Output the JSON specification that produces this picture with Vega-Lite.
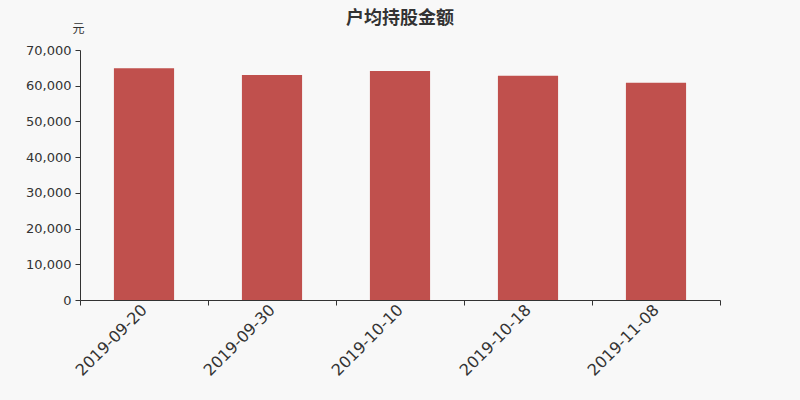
{
  "$schema": "https://vega.github.io/schema/vega-lite/v6.json",
  "width": 640,
  "height": 250,
  "autosize": "none",
  "padding": {"left": 80, "top": 50, "right": 80, "bottom": 100},
  "background": "#f8f8f8",
  "title": {
    "text": "户均持股金额",
    "font": "Noto Sans CJK SC",
    "fontSize": 18,
    "fontWeight": "bold",
    "color": "#333333",
    "anchor": "middle",
    "frame": "group",
    "offset": -6
  },
  "config": {
    "view": {"stroke": null},
    "axis": {
      "labelFont": "DejaVu Sans",
      "labelColor": "#333333",
      "domainColor": "#333333",
      "tickColor": "#333333",
      "grid": false
    }
  },
  "data": {
    "values": [
      {"date": "2019-09-20", "amount": 64900},
      {"date": "2019-09-30", "amount": 63000},
      {"date": "2019-10-10", "amount": 64100},
      {"date": "2019-10-18", "amount": 62800},
      {"date": "2019-11-08", "amount": 60850}
    ]
  },
  "mark": {"type": "bar", "color": "#c0504d", "width": {"band": 0.47}},
  "encoding": {
    "x": {
      "field": "date",
      "type": "ordinal",
      "sort": null,
      "scale": {"paddingInner": 0, "paddingOuter": 0},
      "axis": {
        "title": null,
        "labelAngle": -45,
        "labelAlign": "right",
        "labelBaseline": "middle",
        "labelFontSize": 16,
        "labelPadding": 2,
        "tickSize": 5,
        "tickBand": "extent"
      }
    },
    "y": {
      "field": "amount",
      "type": "quantitative",
      "scale": {"domain": [0, 70000]},
      "axis": {
        "title": "元",
        "titleFont": "Noto Sans CJK SC",
        "titleFontSize": 12,
        "titleFontWeight": "normal",
        "titleColor": "#333333",
        "titleAngle": 0,
        "titleAlign": "center",
        "titleBaseline": "middle",
        "titleX": -2,
        "titleY": -22,
        "values": [0, 10000, 20000, 30000, 40000, 50000, 60000, 70000],
        "format": ",.0f",
        "labelFontSize": 13,
        "labelPadding": 4,
        "tickSize": 5
      }
    }
  }
}
